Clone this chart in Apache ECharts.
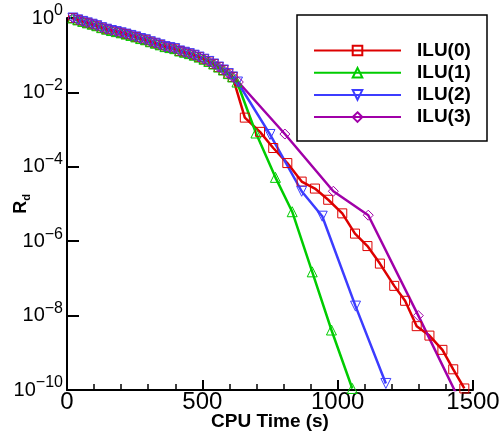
<!DOCTYPE html>
<html><head><meta charset="utf-8">
<script src="https://cdn.jsdelivr.net/npm/echarts@6/dist/echarts.min.js"></script>
<style>html,body{margin:0;padding:0;background:#fff}#c{width:502px;height:436px}</style>
</head><body><div id="c"></div>
<script>
const seriesNames = ['ILU(0)', 'ILU(1)', 'ILU(2)', 'ILU(3)'];
const seriesColors = ['#dd0000', '#00cc00', '#3c3cff', '#a000a8'];
const seriesSymbols = ['rect', 'triangle', 'triangle', 'diamond'];
const seriesRotate = [0, 0, 180, 0];

// common early convergence history (all four overlap)
const sharedTime = [22, 40, 58, 75, 93, 110, 128, 146, 164, 182, 200, 218, 236, 254, 272, 290, 308, 326, 344, 362, 380, 398, 416, 434, 452, 470, 488, 506, 524, 542, 560, 578, 596, 612];
const sharedRd = [1.0, 0.89, 0.81, 0.74, 0.68, 0.62, 0.55, 0.50, 0.46, 0.43, 0.40, 0.37, 0.34, 0.31, 0.28, 0.26, 0.23, 0.21, 0.19, 0.17, 0.16, 0.15, 0.13, 0.12, 0.11, 0.10, 0.089, 0.078, 0.068, 0.058, 0.048, 0.040, 0.032, 0.026];

const ilu0Time = [657, 713, 762, 814, 867, 916, 965, 1017, 1064, 1110, 1156, 1209, 1249, 1292, 1339, 1387, 1427, 1468];
const ilu0Rd = [2.1e-3, 8.7e-4, 3.2e-4, 1.26e-4, 4.0e-5, 2.6e-5, 1.3e-5, 5.6e-6, 1.6e-6, 7.4e-7, 2.5e-7, 6.3e-8, 2.5e-8, 5.2e-9, 2.9e-9, 1.2e-9, 3.6e-10, 1.1e-10];

const ilu1Time = [628, 698, 770, 832, 906, 977, 1054];
const ilu1Rd = [0.019, 8.1e-4, 5.2e-5, 6.2e-6, 1.5e-7, 4.1e-9, 1.1e-10];

const ilu2Time = [630, 750, 867, 943, 1066, 1178];
const ilu2Rd = [0.019, 7.4e-4, 2.2e-5, 4.7e-6, 1.8e-8, 1.5e-10];

const ilu3Time = [633, 805, 984, 1113, 1298, 1481];
const ilu3Rd = [0.019, 7.6e-4, 2.2e-5, 5.0e-6, 1.0e-8, 1.8e-11];

const xTicks = [0, 500, 1000, 1500];
const yTickExponents = [0, -2, -4, -6, -8, -10];

const tailTimes = [ilu0Time, ilu1Time, ilu2Time, ilu3Time];
const tailRds = [ilu0Rd, ilu1Rd, ilu2Rd, ilu3Rd];

const FONT = '"Liberation Sans", Arial, Helvetica, sans-serif';

function buildData(i) {
  const pts = [];
  for (let k = 0; k < sharedTime.length; k++) pts.push([sharedTime[k], sharedRd[k]]);
  for (let k = 0; k < tailTimes[i].length; k++) pts.push([tailTimes[i][k], tailRds[i][k]]);
  return pts;
}

const chart = echarts.init(document.getElementById('c'), null, { renderer: 'canvas' });
chart.setOption({
  animation: false,
  backgroundColor: '#fff',
  grid: { left: 67, top: 18, right: 29, bottom: 46, containLabel: false, outerBoundsMode: 'none' },
  xAxis: {
    type: 'value', min: xTicks[0], max: xTicks[xTicks.length - 1], interval: 500,
    axisLine: { show: true, onZero: false, lineStyle: { color: '#000', width: 2 } },
    axisTick: { show: true, inside: true, length: 10, lineStyle: { color: '#000', width: 2 } },
    minorTick: { show: true, splitNumber: 5, length: 6, lineStyle: { color: '#000', width: 1.5 } },
    splitLine: { show: false },
    axisLabel: { color: '#000', fontSize: 24, fontFamily: FONT, margin: 0,
      formatter: v => (xTicks.indexOf(v) >= 0 ? String(v) : '') },
    name: 'CPU Time (s)', nameLocation: 'middle', nameGap: 22, nameMoveOverlap: false,
    nameTextStyle: { color: '#000', fontSize: 19, fontWeight: 'bold', fontFamily: FONT }
  },
  yAxis: {
    type: 'log', logBase: 10, min: 1e-10, max: 1, interval: 2,
    axisLine: { show: true, lineStyle: { color: '#000', width: 2 } },
    axisTick: { show: true, inside: true, length: 12, lineStyle: { color: '#000', width: 2 } },
    splitLine: { show: false },
    axisLabel: {
      margin: 4, color: '#000', fontFamily: FONT,
      formatter: function (v) {
        const e = Math.round(Math.log10(v));
        if (yTickExponents.indexOf(e) < 0) return '';
        return '{b|10}{s|' + String(e).replace('-', '\u2212') + '}';
      },
      rich: {
        b: { fontSize: 20, lineHeight: 30, fontFamily: FONT, color: '#000' },
        s: { fontSize: 16, lineHeight: 15, verticalAlign: 'top', fontFamily: FONT, color: '#000' }
      }
    },
    name: '{r|R}{d|d}', nameLocation: 'middle', nameRotate: 90, nameGap: 35, nameMoveOverlap: false,
    nameTextStyle: {
      rich: {
        r: { fontSize: 18, fontWeight: 'bold', lineHeight: 22, fontFamily: FONT, color: '#000' },
        d: { fontSize: 11, fontWeight: 'bold', lineHeight: 11, verticalAlign: 'bottom', fontFamily: FONT, color: '#000' }
      }
    }
  },
  legend: {
    orient: 'vertical', left: 313, top: 41,
    itemWidth: 87, itemHeight: 12, itemGap: 3.2,
    padding: 0,
    textStyle: { color: '#000', fontSize: 19, lineHeight: 12, fontWeight: 'bold', fontFamily: FONT, padding: [0, 0, 0, 11] },
    data: seriesNames
  },
  graphic: [{
    type: 'rect', z: 100,
    shape: { x: 297, y: 15, width: 190, height: 126 },
    style: { fill: 'none', stroke: '#000', lineWidth: 1.5 }
  }],
  series: seriesNames.map((name, i) => ({
    name: name, type: 'line',
    data: buildData(i),
    symbol: seriesSymbols[i], symbolRotate: seriesRotate[i],
    symbolSize: seriesSymbols[i] === 'rect' ? 9 : 10,
    showAllSymbol: true,
    lineStyle: { color: seriesColors[i], width: 2.5 },
    itemStyle: { color: 'rgba(0,0,0,0)', borderColor: seriesColors[i], borderWidth: 1 },
    emphasis: { disabled: true },
    clip: true
  }))
});
</script></body></html>
